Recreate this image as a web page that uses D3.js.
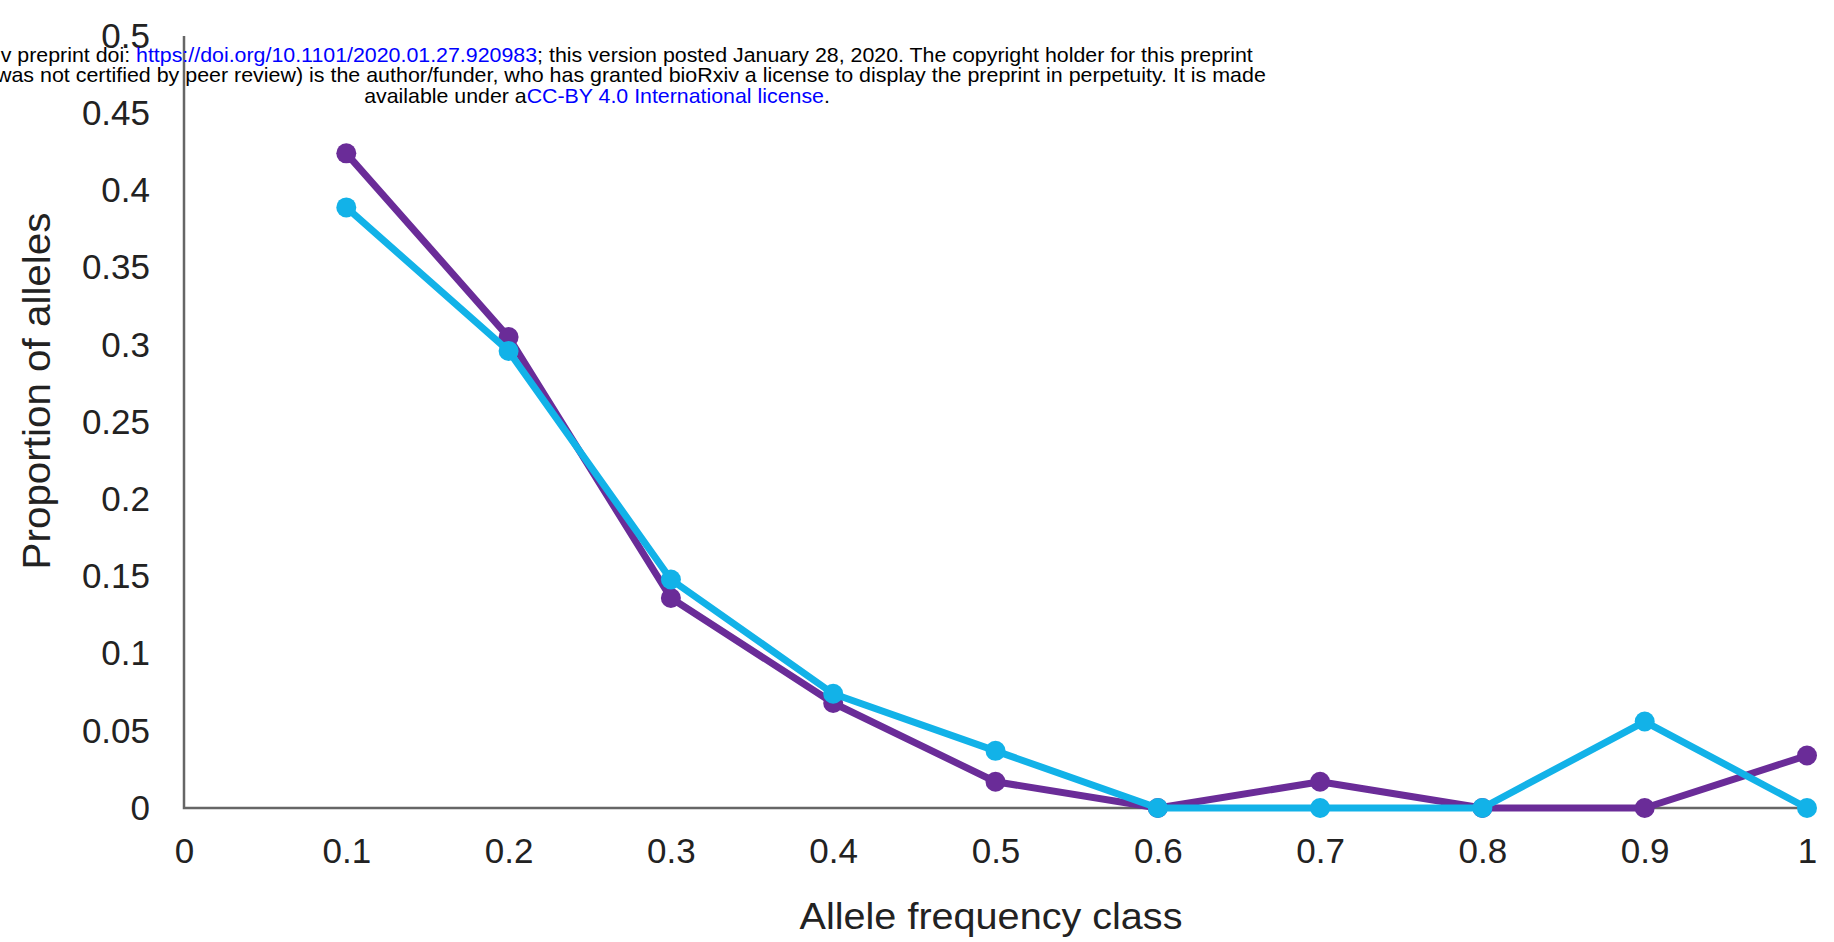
<!DOCTYPE html>
<html>
<head>
<meta charset="utf-8">
<script src="https://cdn.jsdelivr.net/npm/d3@7"></script>
<style>
  body { margin: 0; background: #fff; }
  text { font-family: "Liberation Sans", Arial, Helvetica, sans-serif; }
</style>
</head>
<body>
<div id="chart"></div>
<script>
// ----- data ----- //
var freqClass = [0.1, 0.2, 0.3, 0.4, 0.5, 0.6, 0.7, 0.8, 0.9, 1.0];
var purpleVals = [0.424, 0.305, 0.136, 0.068, 0.017, 0, 0.017, 0, 0, 0.034];
var cyanVals = [0.389, 0.296, 0.148, 0.074, 0.037, 0, 0, 0, 0.056, 0];

var xTickVals = [0, 0.1, 0.2, 0.3, 0.4, 0.5, 0.6, 0.7, 0.8, 0.9, 1];
var xTickLabels = ["0", "0.1", "0.2", "0.3", "0.4", "0.5", "0.6", "0.7", "0.8", "0.9", "1"];
var yTickVals = [0, 0.05, 0.1, 0.15, 0.2, 0.25, 0.3, 0.35, 0.4, 0.45, 0.5];
var yTickLabels = ["0", "0.05", "0.1", "0.15", "0.2", "0.25", "0.3", "0.35", "0.4", "0.45", "0.5"];

var colors = ["#6a2c98", "#12b2e8"];
var seriesList = [purpleVals, cyanVals];

var xTitle = "Allele frequency class";
var yTitle = "Proportion of alleles";

// header lines: [text, isLink]
var header1 = [["bioRxiv preprint doi: ", false], ["https://doi.org/10.1101/2020.01.27.920983", true], ["; this version posted January 28, 2020. The copyright holder for this preprint", false]];
var header2 = [["(which was not certified by peer review) is the author/funder, who has granted bioRxiv a license to display the preprint in perpetuity. It is made", false]];
var header3 = [["available under a", false], ["CC-BY 4.0 International license", true], [".", false]];

// ----- svg ----- //
var W = 1834, H = 942;
var svg = d3.select("#chart").append("svg")
    .attr("width", W)
    .attr("height", H);

var x = d3.scaleLinear().domain([0, 1]).range([184, 1807]);
var y = d3.scaleLinear().domain([0, 0.5]).range([808, 36]);

// axes (labels only, lines drawn below)
var xAxis = svg.append("g")
    .attr("transform", "translate(0,808)")
    .call(d3.axisBottom(x).tickValues(xTickVals).tickSize(0).tickPadding(30)
        .tickFormat(function (d, i) { return xTickLabels[i]; }));
xAxis.select(".domain").remove();
xAxis.selectAll("text").style("font-size", "35px").attr("fill", "#222")
    .style("font-family", '"Liberation Sans", Arial, sans-serif');

var yAxis = svg.append("g")
    .attr("transform", "translate(184,0)")
    .call(d3.axisLeft(y).tickValues(yTickVals).tickSize(0).tickPadding(34)
        .tickFormat(function (d, i) { return yTickLabels[i]; }));
yAxis.select(".domain").remove();
yAxis.selectAll("text").style("font-size", "35px").attr("fill", "#222")
    .style("font-family", '"Liberation Sans", Arial, sans-serif');

// axis lines
svg.append("path")
    .attr("d", d3.line()([[x(0), y(0.5)], [x(0), y(0)], [x(1), y(0)]]))
    .attr("fill", "none")
    .attr("stroke", "#666")
    .attr("stroke-width", 2.5);

// stretch a text element to a target width around its own anchor point
function fitWidth(t, target, cx, cy, rot) {
    var len = t.node().getComputedTextLength();
    t.attr("transform", "translate(" + cx + "," + cy + ")" + (rot ? " rotate(" + rot + ")" : "") + " scale(" + (target / len) + ",1)");
}

// axis titles
var xt = svg.append("text")
    .attr("text-anchor", "middle")
    .attr("fill", "#222")
    .style("font-size", "37px")
    .text(xTitle);
fitWidth(xt, 383, 991, 929, 0);

var yt = svg.append("text")
    .attr("text-anchor", "middle")
    .attr("fill", "#222")
    .style("font-size", "38px")
    .text(yTitle);
fitWidth(yt, 357, 50, 391, -90);

// ----- lines + dots ----- //
var line = d3.line()
    .x(function (d, i) { return x(freqClass[i]); })
    .y(function (d) { return y(d); });

var groups = svg.selectAll(".series")
    .data(seriesList)
    .enter()
    .append("g")
    .attr("class", "series");

groups.append("path")
    .attr("fill", "none")
    .attr("stroke", function (d, i) { return colors[i]; })
    .attr("stroke-width", 7)
    .attr("stroke-linejoin", "round")
    .attr("d", line);

groups.each(function (vals, si) {
    d3.select(this).selectAll("circle")
        .data(vals)
        .enter()
        .append("circle")
        .attr("cx", function (d, i) { return x(freqClass[i]); })
        .attr("cy", function (d) { return y(d); })
        .attr("r", 10)
        .attr("fill", colors[si]);
});

// ----- header ----- //
function headerLine(parts, baseline, target) {
    var t = svg.append("text")
        .attr("text-anchor", "middle")
        .style("font-size", "20px");
    parts.forEach(function (p) {
        t.append("tspan").attr("fill", p[1] ? "#0000ff" : "#000").text(p[0]);
    });
    fitWidth(t, target, 597, baseline, 0);
}
headerLine(header1, 62, 1312);
headerLine(header2, 82, 1338);
headerLine(header3, 103, 466);
</script>
</body>
</html>
